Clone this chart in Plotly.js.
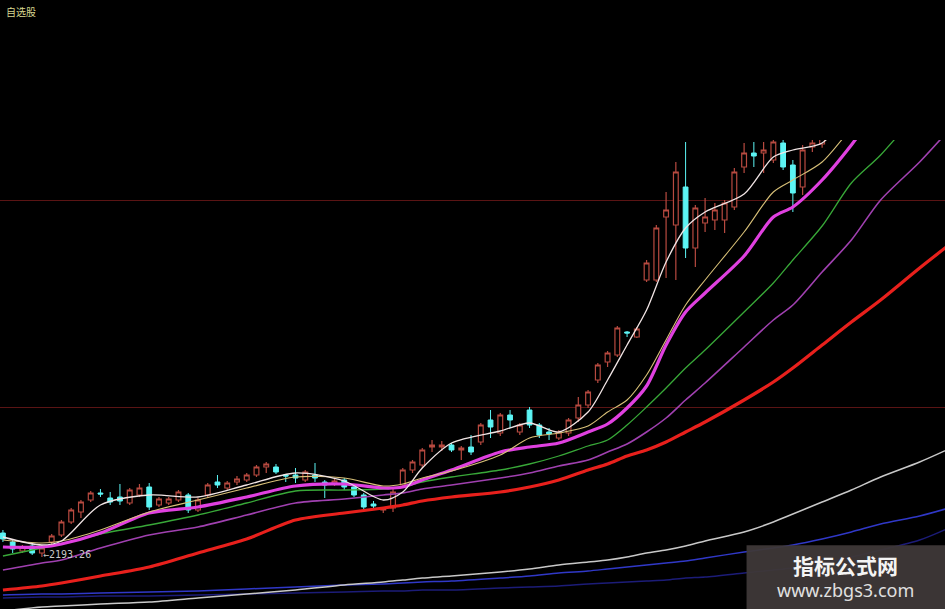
<!DOCTYPE html>
<html><head><meta charset="utf-8">
<script src="https://cdn.plot.ly/plotly-3.0.1.min.js"></script>
<style>html,body{margin:0;padding:0;background:#000;}#chart{width:945px;height:609px;}</style>
</head><body><div id="chart"></div>
<script>
// Candle index (trading day order)
const dayIndex = [0,1,2,3,4,5,6,7,8,9,10,11,12,13,14,15,16,17,18,19,20,21,22,23,24,25,26,27,28,29,30,31,32,33,34,35,36,37,38,39,40,41,42,43,44,45,46,47,48,49,50,51,52,53,54,55,56,57,58,59,60,61,62,63,64,65,66,67,68,69,70,71,72,73,74,75,76,77,78,79,80,81,82,83,84,85,86,87,88,89,90,91,92,93,94,95,96];
const openP  = [2289,2253,2217,2237,2209,2253,2281,2333,2373,2421,2449,2429,2433,2409,2441,2473,2401,2409,2421,2441,2381,2441,2493,2469,2493,2501,2521,2553,2553,2521,2521,2501,2521,2493,2485,2501,2473,2441,2405,2381,2389,2481,2541,2561,2633,2633,2641,2621,2633,2653,2741,2689,2761,2693,2781,2721,2693,2669,2689,2749,2801,2901,2973,3001,3093,3073,3301,3301,3553,3521,3673,3429,3529,3541,3541,3593,3753,3809,3809,3781,3849,3761,3673,3833,3845,3900,3950,3990,4020,3970,4050,4100,4080,4170,4210,4180,4280];
const highP  = [2301,2265,2241,2245,2241,2285,2341,2389,2421,2457,2465,2453,2485,2469,2485,2489,2433,2433,2461,2449,2429,2489,2521,2497,2517,2529,2561,2573,2565,2521,2549,2541,2569,2501,2505,2509,2481,2449,2417,2389,2469,2549,2581,2629,2661,2657,2649,2637,2681,2729,2781,2769,2781,2729,2793,2729,2709,2701,2749,2833,2861,2969,3017,3117,3097,3113,3381,3521,3653,3773,3853,3601,3629,3609,3621,3749,3849,3853,3853,3880,3870,3781,3841,3880,3950,3960,4010,4040,4050,4060,4120,4150,4180,4230,4260,4290,4340];
const lowP   = [2253,2209,2209,2201,2193.26,2241,2273,2325,2349,2413,2433,2401,2401,2401,2433,2381,2393,2401,2413,2369,2373,2429,2469,2461,2481,2493,2513,2529,2525,2493,2489,2493,2493,2429,2477,2461,2433,2385,2381,2369,2373,2469,2529,2549,2613,2617,2613,2581,2601,2641,2669,2677,2709,2681,2709,2669,2661,2661,2677,2733,2789,2889,2953,2993,3073,3069,3293,3293,3309,3301,3389,3353,3493,3501,3489,3581,3729,3753,3729,3769,3741,3573,3641,3813,3830,3880,3930,3960,3950,3950,4030,4060,4070,4150,4160,4170,4250];
const closeP = [2265,2225,2233,2209,2229,2277,2333,2381,2413,2449,2445,2413,2417,2461,2469,2393,2425,2425,2453,2381,2421,2481,2481,2489,2505,2521,2553,2565,2533,2517,2509,2533,2509,2481,2497,2473,2441,2393,2397,2389,2453,2541,2573,2621,2641,2641,2621,2629,2613,2721,2713,2761,2741,2721,2721,2681,2685,2693,2741,2801,2853,2961,3009,3109,3089,3105,3369,3509,3581,3733,3429,3589,3553,3581,3609,3733,3809,3797,3821,3853,3753,3649,3821,3849,3920,3950,3990,4020,3970,4050,4100,4080,4170,4210,4180,4280,4320];

// Moving-average lines, read at these day positions
const maDay = [0,4,6,10,15,20,25,30,35,39,41,43,46,51,54,57,60,62,64,66,68,70,72,76,79,81,84,87,90,94,97];
const ma5   = [2273,2241,2257,2401,2441,2433,2481,2529,2497,2421,2453,2549,2649,2697,2729,2693,2773,2901,3041,3181,3373,3509,3573,3645,3793,3821,3849,3981,4101,4221,4341];
const ma10  = [2261,2249,2257,2301,2373,2421,2469,2513,2509,2477,2485,2509,2537,2601,2669,2689,2717,2773,2821,2921,3061,3201,3301,3493,3653,3701,3773,3909,4041,4181,4321];
const ma20  = [2233,2233,2245,2289,2369,2393,2433,2477,2485,2469,2473,2501,2541,2613,2633,2649,2693,2725,2789,2877,3041,3173,3249,3397,3553,3593,3701,3841,4001,4161,4301];
const ma30  = [2197,2229,2245,2285,2321,2361,2409,2457,2461,2465,2473,2493,2513,2541,2565,2597,2637,2661,2721,2793,2869,2949,3021,3173,3289,3381,3517,3689,3801,3981,4121];
const ma60  = [2141,2169,2181,2229,2281,2313,2361,2409,2425,2441,2449,2465,2481,2509,2529,2557,2581,2613,2645,2693,2749,2821,2889,3033,3141,3201,3333,3461,3621,3773,3901];
const ma120 = [2061,2077,2089,2117,2153,2209,2265,2341,2369,2389,2401,2417,2433,2453,2473,2501,2541,2565,2597,2621,2653,2693,2733,2821,2893,2949,3041,3133,3221,3349,3441];
const ma250 = [1977,1993,1997,2005,2013,2029,2045,2061,2081,2093,2101,2109,2117,2133,2145,2161,2173,2181,2193,2209,2221,2237,2257,2293,2333,2365,2413,2461,2513,2573,2625];
const maBlue= [2041,2045,2045,2049,2053,2057,2065,2073,2081,2085,2089,2093,2097,2109,2117,2129,2137,2145,2153,2161,2169,2177,2189,2213,2229,2241,2265,2293,2325,2357,2389];
const maNavy= [2029,2033,2033,2037,2037,2041,2045,2049,2053,2057,2057,2061,2061,2069,2073,2077,2085,2089,2093,2097,2101,2109,2113,2129,2141,2149,2169,2193,2221,2261,2309];

const gridLevels = [2793, 3621];
const lowDay = 4, lowValue = 2193.26;

function ma(y, color, width) {
  return {type:'scatter', mode:'lines', x:maDay, y:y, hoverinfo:'skip',
    line:{color:color, width:width, shape:'spline', smoothing:0.8}, showlegend:false};
}

const traces = [
  ma(maNavy, '#1c1c78', 1.5),
  ma(maBlue, '#3038c8', 1.5),
  ma(ma250, '#c8c8c8', 1.5),
  ma(ma120, '#e8201c', 3.2),
  ma(ma60, '#a040b0', 1.6),
  ma(ma30, '#38a838', 1.3),
  {type:'candlestick', x:dayIndex, open:openP, high:highP, low:lowP, close:closeP,
   increasing:{line:{color:'#b84a40', width:1.2}, fillcolor:'#000000'},
   decreasing:{line:{color:'#5cf4f4', width:1}, fillcolor:'#5cf4f4'},
   whiskerwidth:0, showlegend:false, hoverinfo:'skip'},
  ma(ma20, '#e040e0', 3.2),
  ma(ma10, '#d8c078', 1.1),
  ma(ma5, '#f0e4e4', 1.3)
];

const layout = {
  width:945, height:609,
  margin:{l:0, r:0, t:140, b:0, pad:0},
  paper_bgcolor:'#000', plot_bgcolor:'#000',
  showlegend:false,
  xaxis:{range:[-0.3, 96.6], showgrid:false, zeroline:false, showticklabels:false,
         ticks:'', showline:false, rangeslider:{visible:false}, fixedrange:true},
  yaxis:{range:[1985, 3861], tickvals:gridLevels, showgrid:true, gridcolor:'#5a1414', gridwidth:1,
         zeroline:false, showticklabels:false, ticks:'', showline:false, fixedrange:true},
  shapes:[
    {type:'rect', xref:'paper', yref:'paper', x0:0.790, x1:1.0, y0:0, y1:0.136,
     fillcolor:'rgba(62,56,56,0.95)', line:{width:0}, layer:'above'}
  ],
  annotations:[
    {xref:'paper', yref:'paper', x:0.004, y:1.273, xanchor:'left', yanchor:'middle', showarrow:false,
     text:'自选股', font:{family:'Noto Sans CJK SC', size:10, color:'#d8d890'}},
    {xref:'x', yref:'y', x:lowDay, y:lowValue, xanchor:'left', yanchor:'middle', xshift:-1, yshift:2, showarrow:false,
     text:'←2193.26', font:{family:'DejaVu Sans Mono', size:10, color:'#c8c8c8'}},
    {xref:'paper', yref:'paper', x:0.895, y:0.093, xanchor:'center', yanchor:'middle', showarrow:false,
     text:'<b>指标公式网</b>', font:{family:'Noto Sans CJK SC', size:21, color:'#f4f4f4'}},
    {xref:'paper', yref:'paper', x:0.895, y:0.040, xanchor:'center', yanchor:'middle', showarrow:false,
     text:'www.zbgs3.com', font:{family:'Noto Sans', size:18, color:'#e0e0e0'}}
  ]
};

Plotly.newPlot('chart', traces, layout, {staticPlot:true, displayModeBar:false});
</script>
</body></html>
